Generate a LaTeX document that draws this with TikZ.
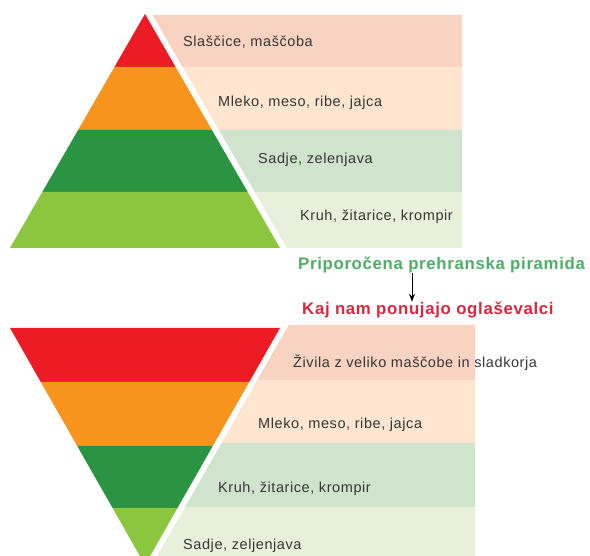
\documentclass[tikz,border=0pt]{standalone}
\usepackage{fontspec}
\setmainfont{Liberation Sans}[LetterSpace=4]
\usetikzlibrary{arrows.meta,calc,positioning}
\definecolor{LayerRed}{HTML}{ED1C24}
\definecolor{LayerOrange}{HTML}{F7941D}
\definecolor{LayerGreen}{HTML}{2B9442}
\definecolor{LayerLime}{HTML}{8CC63F}
\definecolor{BandRose}{HTML}{F9D3C2}
\definecolor{BandPeach}{HTML}{FDE5CF}
\definecolor{BandSage}{HTML}{D0E3CD}
\definecolor{BandMint}{HTML}{E6F0DA}
\definecolor{TextDark}{HTML}{363636}
\definecolor{TitleGreen}{HTML}{4FAD68}
\definecolor{TitleRed}{HTML}{D6283E}
\begin{document}
\begin{tikzpicture}[x=1pt,y=-1pt,every node/.style={font=\fontsize{14.5}{16}\selectfont,text=TextDark,inner sep=0pt},foodtext/.style={anchor=west},headline/.style={anchor=west,font=\bfseries\fontsize{16.8}{20}\selectfont},pointer/.style={draw=black,line width=1pt,-{Stealth[length=8pt,width=6pt]}}]
\useasboundingbox (0,0) rectangle (590,556);
\clip (0,0) rectangle (590,556);
\foreach \ya/\yb/\col in {15/67/BandRose,67/130/BandPeach,130/192/BandSage,192/248/BandMint}{\fill[\col] ({152+(\ya-14)*0.577},\ya)--(462,\ya)--(462,\yb)--({152+(\yb-14)*0.577},\yb)--cycle;}
\foreach \ya/\yb/\col in {14/67/LayerRed,67/130/LayerOrange,130/192/LayerGreen,192/248/LayerLime}{\fill[\col] ({145-(\ya-14)*0.577},\ya)--({145+(\ya-14)*0.577},\ya)--({145+(\yb-14)*0.577},\yb)--({145-(\yb-14)*0.577},\yb)--cycle;}
\foreach \ya/\yb/\col in {325/380/BandRose,380/443/BandPeach,443/507/BandSage,507/556/BandMint}{\fill[\col] ({152+(565-\ya)*0.5696},\ya)--(475,\ya)--(475,\yb)--({152+(565-\yb)*0.5696},\yb)--cycle;}
\foreach \ya/\yb/\col in {328/382/LayerRed,382/446/LayerOrange,446/508/LayerGreen,508/565/LayerLime}{\fill[\col] ({145-(565-\ya)*0.5696},\ya)--({145+(565-\ya)*0.5696},\ya)--({145+(565-\yb)*0.5696},\yb)--({145-(565-\yb)*0.5696},\yb)--cycle;}
\node[foodtext] (sweets) at (183,42) {Slaščice, maščoba};
\node[foodtext] (dairy) at (218,103) {Mleko, meso, ribe, jajca};
\node[foodtext] (fruit) at (258,160) {Sadje, zelenjava};
\node[foodtext] (grain) at (300,217) {Kruh, žitarice, krompir};
\node[headline,text=TitleGreen] (recommended) at (298,265) {Priporočena prehranska piramida};
\node[headline,text=TitleRed] (advertised) at (302,310) {Kaj nam ponujajo oglaševalci};
\coordinate (arrowX) at (412,0);
\draw[pointer] (recommended.south -| arrowX) -- (advertised.north -| arrowX);
\node[foodtext] (fatty) at (293,363) {Živila z veliko maščobe in sladkorja};
\node[foodtext] (dairyAd) at (258,425) {Mleko, meso, ribe, jajca};
\node[foodtext] (grainAd) at (218,489) {Kruh, žitarice, krompir};
\node[foodtext] (fruitAd) at (183,546) {Sadje, zeljenjava};
\end{tikzpicture}
\end{document}
